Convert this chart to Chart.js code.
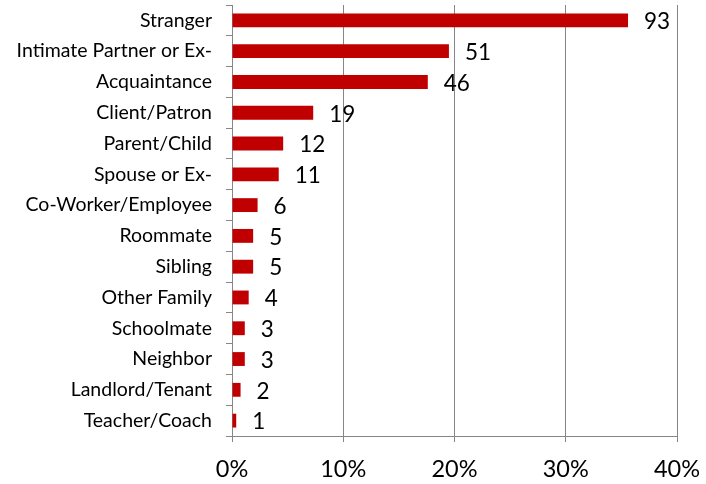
<!DOCTYPE html>
<html>
<head>
<meta charset="utf-8">
<script src="https://cdn.jsdelivr.net/npm/chart.js@4"></script>
<style>
  html, body { margin: 0; padding: 0; background: #fff; }
  #wrap { width: 706px; height: 484px; }
</style>
</head>
<body>
<div id="wrap"><canvas id="chart" width="706" height="484"></canvas></div>
<script>
// relationship categories, top to bottom
const categories = [
  'Stranger', 'Intimate Partner or Ex-', 'Acquaintance', 'Client/Patron',
  'Parent/Child', 'Spouse or Ex-', 'Co-Worker/Employee', 'Roommate',
  'Sibling', 'Other Family', 'Schoolmate', 'Neighbor',
  'Landlord/Tenant', 'Teacher/Coach',
];
// share of cases (percent)
const shares = [35.6, 19.5, 17.6, 7.3, 4.6, 4.2, 2.3, 1.9, 1.9, 1.5, 1.15, 1.15, 0.77, 0.38];
// case counts shown next to each bar
const counts = [93, 51, 46, 19, 12, 11, 6, 5, 5, 4, 3, 3, 2, 1];
const xTicks = [0, 10, 20, 30, 40];

const FONT = 'Lato, "Open Sans", sans-serif';
const GRID = '#868686';

const countLabels = {
  id: 'countLabels',
  afterDatasetsDraw(chart) {
    const { ctx } = chart;
    const meta = chart.getDatasetMeta(0);
    ctx.save();
    ctx.font = '22.5px ' + FONT;
    ctx.fillStyle = '#000';
    ctx.textAlign = 'left';
    ctx.textBaseline = 'middle';
    meta.data.forEach((bar, i) => {
      ctx.fillText(String(counts[i]), bar.x + 16, bar.y + 1.5);
    });
    ctx.restore();
  },
};

new Chart(document.getElementById('chart'), {
  type: 'bar',
  data: {
    labels: categories,
    datasets: [{
      data: shares,
      backgroundColor: '#c00000',
      borderWidth: 0,
      categoryPercentage: 1,
      barPercentage: 0.45,
    }],
  },
  options: {
    indexAxis: 'y',
    responsive: false,
    animation: false,
    layout: { autoPadding: false, padding: { top: 5, right: 29, left: 0, bottom: 0 } },
    plugins: { legend: { display: false }, tooltip: { enabled: false } },
    scales: {
      x: {
        min: 0,
        max: 40,
        afterBuildTicks(scale) {
          scale.ticks = xTicks.map(value => ({ value }));
        },
        afterFit(scale) {
          scale.height = 48;
          scale.paddingLeft = 0;
          scale.paddingRight = 0;
        },
        ticks: {
          color: '#000',
          font: { family: FONT, size: 23.5 },
          padding: 13,
          callback: value => value + '%',
        },
        grid: { color: GRID, lineWidth: 1, tickLength: 6, tickColor: GRID },
        border: { color: GRID, width: 1 },
      },
      y: {
        afterFit(scale) {
          scale.width = 232;
          scale.paddingTop = 0;
          scale.paddingBottom = 0;
        },
        ticks: {
          color: '#000',
          font: { family: FONT, size: 19.5 },
          padding: 14,
          autoSkip: false,
        },
        grid: { drawOnChartArea: false, tickLength: 6, tickColor: GRID, offset: true },
        border: { color: GRID, width: 1 },
      },
    },
  },
  plugins: [countLabels],
});
</script>
</body>
</html>
